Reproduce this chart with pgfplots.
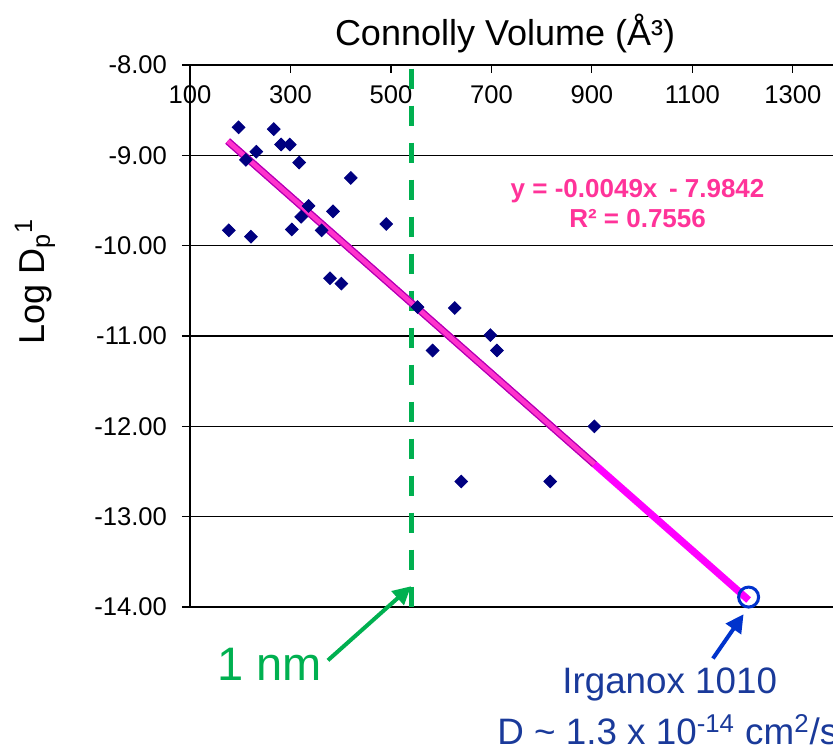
\documentclass[border=0pt]{standalone}
\usepackage{fontspec}
\setmainfont{Liberation Sans}
\usepackage{pgfplots}
\pgfplotsset{compat=1.18}
\usetikzlibrary{arrows.meta}
\definecolor{ptnavy}{HTML}{000080}
\definecolor{eqpink}{HTML}{FF3399}
\definecolor{trendmag}{HTML}{FF00FF}
\definecolor{trendedge}{HTML}{B000B0}
\definecolor{trendfill}{HTML}{FF33CC}
\definecolor{nmgreen}{HTML}{00B050}
\definecolor{circblue}{HTML}{0033CC}
\definecolor{txtblue}{HTML}{1A3A9A}

\begin{document}
\begin{tikzpicture}
\useasboundingbox (-95pt,-69.5pt) rectangle (321.5pt,303.5pt);
\clip (-95pt,-69.5pt) rectangle (321.5pt,303.5pt);
\begin{axis}[
    scale only axis,
    width=321.5pt, height=271pt,
    xmin=100, xmax=1380,
    ymin=-14, ymax=-8,
    clip=false,
    axis x line*=top,
    axis y line*=left,
    axis line style={black, line width=0.7pt},
    xtick={100,300,500,700,900,1100,1300},
    xticklabels={100,300,500,700,900,1100,1300},
    ytick={-14,-13,-12,-11,-10,-9,-8},
    yticklabels={-14.00,-13.00,-12.00,-11.00,-10.00,-9.00,-8.00},
    tick align=inside,
    major tick length=4pt,
    xtick style={black, line width=0.6pt},
    ytick style={black, line width=0.6pt, xshift=-4pt},
    ymajorgrids,
    grid style={black, line width=0.6pt},
    tick label style={font=\fontsize{12.8}{14}\selectfont},
    xticklabel style={anchor=center, yshift=-15pt},
    yticklabel style={anchor=east, xshift=-8pt},
]
% data points
\addplot[only marks, color=ptnavy, mark=square*, mark size=2.25pt,
    mark options={rotate=45, fill=ptnavy, draw=ptnavy}]
    coordinates {
    (196.7,-8.69) (266.7,-8.71) (232,-8.96) (281.3,-8.88) (298.7,-8.88)
    (211.3,-9.05) (317.3,-9.08) (420,-9.25) (336,-9.56) (384.7,-9.62)
    (321.3,-9.68) (177.3,-9.83) (221.3,-9.90) (302.7,-9.82) (362,-9.83)
    (490.7,-9.76) (378.7,-10.36) (401.3,-10.42) (553,-10.68) (627,-10.69)
    (583,-11.16) (698,-10.99) (711,-11.16) (640,-12.61) (817,-12.61)
    (905,-12.00)
    };

% 1 nm marker line
\addplot[color=nmgreen, line width=2.5pt, dash pattern=on 10pt off 8.5pt]
    coordinates {(540,-8.04) (540,-14)};

% extrapolated fit line
\addplot[color=trendmag, line width=3.6pt]
    coordinates {(175,-8.842) (1212,-13.923)};
% trendline over the data range
\addplot[color=trendedge, line width=3.6pt]
    coordinates {(175,-8.842) (905,-12.419)};
\addplot[color=trendfill, line width=2.3pt]
    coordinates {(175,-8.842) (905,-12.419)};

% Irganox 1010 point
\draw[circblue, line width=1.5pt] (axis cs:1212,-13.89) circle[radius=5pt];

% annotations
\node[text=eqpink, align=center, font=\bfseries\fontsize{13}{15}\selectfont]
    at (axis cs:991,-9.53) {y = -0.0049x \,- 7.9842\\R² = 0.7556};

\draw[-{Triangle[length=9pt,width=9pt]}, nmgreen, line width=2pt]
    (axis cs:374.6,-14.59) -- (axis cs:540,-13.77);
\node[text=nmgreen, font=\fontsize{23.5}{26}\selectfont]
    at (axis cs:259,-14.64) {1 nm};

\draw[-{Triangle[length=9pt,width=9pt]}, circblue, line width=2pt]
    (axis cs:1141,-14.57) -- (axis cs:1202,-14.08);
\node[text=txtblue, font=\fontsize{18.4}{20}\selectfont]
    at (axis cs:1055,-14.86) {Irganox 1010};
\node[text=txtblue, anchor=west, inner sep=0pt, font=\fontsize{18.4}{20}\selectfont]
    at (axis cs:711,-15.36) {D \textasciitilde{} 1.3 x 10\textsuperscript{-14} cm\textsuperscript{2}/s};

% axis titles
\node[font=\fontsize{18}{20}\selectfont]
    at (axis description cs:0.49,1.059) {Connolly Volume (Å³)};
\node[rotate=90, font=\fontsize{18}{20}\selectfont]
    at (axis description cs:-0.241,0.6) {Log D\textsubscript{p}\textsuperscript{1}};
\end{axis}
\end{tikzpicture}
\end{document}
